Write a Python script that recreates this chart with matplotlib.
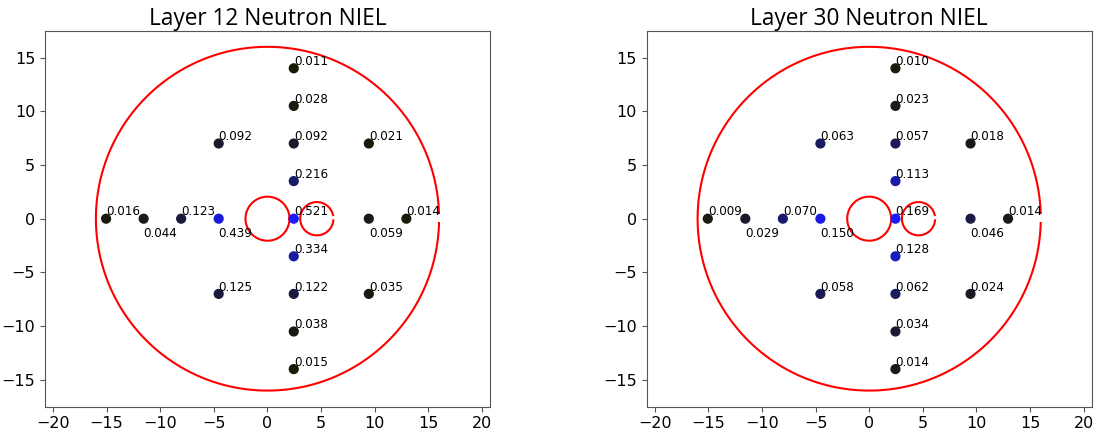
import numpy as np
import matplotlib
matplotlib.use("Agg")
import matplotlib.pyplot as plt

# sensor positions (cm) on the layer face
pos_x = [2.45, 2.45, -4.55, 2.45, 9.45, 2.45,
         -15.05, -11.55, -8.05, -4.55, 2.45, 9.45, 12.95,
         2.45, -4.55, 2.45, 9.45, 2.45, 2.45]
pos_y = [14, 10.5, 7, 7, 7, 3.5,
         0, 0, 0, 0, 0, 0, 0,
         -3.5, -7, -7, -7, -10.5, -14]
# label goes under the point for these
label_below = [False, False, False, False, False, False,
               False, True, False, True, False, True, False,
               False, False, False, False, False, False]

niel_l12 = [0.011, 0.028, 0.092, 0.092, 0.021, 0.216,
            0.016, 0.044, 0.123, 0.439, 0.521, 0.059, 0.014,
            0.334, 0.125, 0.122, 0.035, 0.038, 0.015]
niel_l30 = [0.010, 0.023, 0.063, 0.057, 0.018, 0.113,
            0.009, 0.029, 0.070, 0.150, 0.169, 0.046, 0.014,
            0.128, 0.058, 0.062, 0.024, 0.034, 0.014]

layers = [("Layer 12 Neutron NIEL", niel_l12), ("Layer 30 Neutron NIEL", niel_l30)]

# outline of the layer: outer ring, beam hole, second hole
outer_r = 16.0
hole_r = 2.05
hole2_c = (4.6, 0.0)
hole2_r = 1.55


def draw_layer(ax, title, vals):
    vals = np.array(vals)
    norm = vals / vals.max()
    colors = [(0.1, 0.1, v) for v in norm]

    t = np.linspace(0.033, 2 * np.pi - 0.025, 400)
    ax.plot(outer_r * np.cos(t), outer_r * np.sin(t), color="red", lw=1.5)
    t2 = np.linspace(0, 2 * np.pi, 200)
    ax.plot(hole_r * np.cos(t2), hole_r * np.sin(t2), color="red", lw=1.5)
    t3 = np.linspace(0.22, 2 * np.pi - 0.1, 200)
    ax.plot(hole2_c[0] + hole2_r * np.cos(t3), hole2_c[1] + hole2_r * np.sin(t3),
            color="red", lw=1.5)

    ax.scatter(pos_x, pos_y, c=colors, s=40, zorder=3)
    for x, y, v, below in zip(pos_x, pos_y, vals, label_below):
        dy = -1.7 if below else 0.3
        ax.text(x, y + dy, "%.3f" % v, fontsize=9.5, fontstretch="condensed",
                ha="left", va="baseline", zorder=4)

    ax.set_xlim(-20.75, 20.75)
    ax.set_ylim(-17.5, 17.5)
    ax.set_xticks([-20, -15, -10, -5, 0, 5, 10, 15, 20])
    ax.set_yticks([-15, -10, -5, 0, 5, 10, 15])
    ax.tick_params(labelsize=11.5, color="#555555")
    for sp in ax.spines.values():
        sp.set_color("#555555")
    ax.set_title(title, fontsize=16.3, family="Open Sans", pad=2)


fig = plt.figure(figsize=(10.94, 4.30), dpi=100)
ax1 = fig.add_axes([0.0411, 0.0542, 0.4068, 0.8744])
ax2 = fig.add_axes([0.5911, 0.0542, 0.4068, 0.8744])
for ax, (title, vals) in zip([ax1, ax2], layers):
    draw_layer(ax, title, vals)

fig.savefig("out.png", dpi=100)
